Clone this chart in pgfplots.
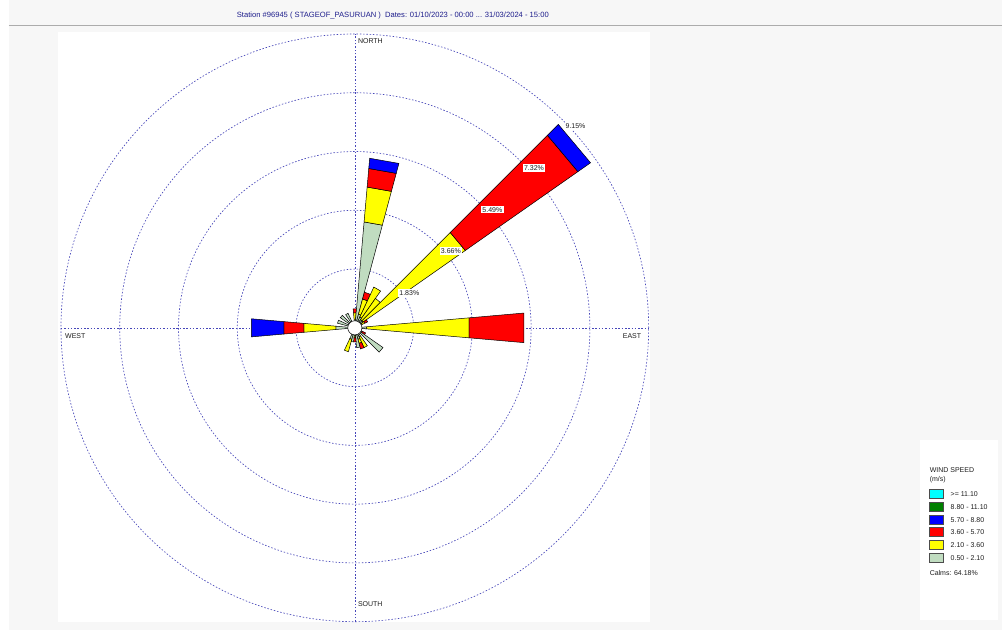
\documentclass[border=0pt]{standalone}
\usepackage{pgfplots}
\pgfplotsset{compat=1.18}
\usepackage{fontspec}
\setmainfont{Liberation Sans}
\definecolor{cg}{RGB}{192,220,192}
\definecolor{cy}{RGB}{255,255,0}
\definecolor{cr}{RGB}{255,0,0}
\definecolor{cb}{RGB}{0,0,255}
\definecolor{cdg}{RGB}{0,128,0}
\definecolor{cc}{RGB}{0,255,255}
\definecolor{ringblue}{RGB}{70,70,185}
\definecolor{titleblue}{RGB}{30,30,140}
\definecolor{bgc}{RGB}{247,247,247}
\definecolor{txt}{RGB}{30,30,30}
\newcommand{\fs}{\fontsize{7pt}{8.4pt}\selectfont}
\newcommand{\ft}{\fontsize{7.6pt}{9pt}\selectfont}
% colour, angle1, angle2 (math degrees), inner radius, outer radius (percent)
\newcommand{\seg}[5]{\addplot[data cs=polar, fill=#1, draw=black, line width=0.5pt, line join=miter] coordinates {(#2,#4) (#2,#5) (#3,#5) (#3,#4)} -- cycle;}
\tikzset{ring/.style={ringblue, line width=0.65pt, dash pattern=on 1.5pt off 1.8pt}}
\begin{document}
\begin{tikzpicture}
\fill[white] (0pt,0pt) rectangle (1002pt,630pt);
\fill[bgc] (9pt,0pt) rectangle (1002pt,630pt);
\draw[gray!65, line width=1pt] (9pt,604pt) -- (1002pt,604pt);
\node[font=\ft, text=titleblue, inner sep=0pt] at (393pt,614pt) {Station \#96945 ( STAGEOF\_PASURUAN )\ \ Dates: 01/10/2023 - 00:00 ... 31/03/2024 - 15:00};
\fill[white] (58pt,8pt) rectangle (650pt,598pt);
\fill[white] (920pt,10pt) rectangle (998pt,190pt);
\begin{axis}[at={(355pt,302pt)}, anchor=origin, scale only axis, width=588pt, height=588pt,
  xmin=-9.15, xmax=9.15, ymin=-9.15, ymax=9.15, hide axis, clip=false]
% rings and compass lines
\draw[ring] (axis cs:0,0) circle[radius=1.83];
\draw[ring] (axis cs:0,0) circle[radius=3.66];
\draw[ring] (axis cs:0,0) circle[radius=5.49];
\draw[ring] (axis cs:0,0) circle[radius=7.32];
\draw[ring] (axis cs:0,0) circle[radius=9.15];
\draw[ring] (axis cs:-9.15,0) -- (axis cs:9.15,0);
\draw[ring] (axis cs:0,-9.15) -- (axis cs:0,9.15);
% petals: bearing b -> math angle 90-b, width 10 deg
% 0 deg
\seg{cg}{85}{95}{0}{0.25}
\seg{cy}{85}{95}{0.25}{0.47}
\seg{cr}{85}{95}{0.47}{0.59}
% 10 deg
\seg{cg}{75}{85}{0}{3.31}
\seg{cy}{75}{85}{3.31}{4.40}
\seg{cr}{75}{85}{4.40}{4.98}
\seg{cb}{75}{85}{4.98}{5.30}
% 20 deg
\seg{cg}{65}{75}{0}{0.44}
\seg{cy}{65}{75}{0.44}{0.93}
\seg{cr}{65}{75}{0.93}{1.15}
% 30 deg
\seg{cg}{55}{65}{0}{0.37}
\seg{cy}{55}{65}{0.37}{1.40}
% 40 deg
\seg{cg}{45}{55}{0}{0.31}
\seg{cy}{45}{55}{0.31}{1.12}
% 50 deg
\seg{cg}{35}{45}{0}{0.31}
\seg{cy}{35}{45}{0.31}{4.20}
\seg{cr}{35}{45}{4.20}{8.48}
\seg{cb}{35}{45}{8.48}{8.96}
% 60 deg
\seg{cg}{25}{35}{0}{0.25}
\seg{cy}{25}{35}{0.25}{0.34}
\seg{cr}{25}{35}{0.34}{0.44}
% 90 deg
\seg{cg}{-5}{5}{0}{0.37}
\seg{cy}{-5}{5}{0.37}{3.57}
\seg{cr}{-5}{5}{3.57}{5.28}
% 120 deg
\seg{cg}{-35}{-25}{0}{0.25}
\seg{cr}{-35}{-25}{0.25}{0.37}
% 130 deg
\seg{cg}{-45}{-35}{0}{1.07}
% 150 deg
\seg{cg}{-65}{-55}{0}{0.31}
\seg{cy}{-65}{-55}{0.31}{0.68}
% 160 deg
\seg{cg}{-75}{-65}{0}{0.37}
\seg{cy}{-75}{-65}{0.37}{0.50}
\seg{cr}{-75}{-65}{0.50}{0.68}
% 170 deg
\seg{cg}{-85}{-75}{0}{0.62}
% 180 deg
\seg{cg}{-95}{-85}{0}{0.25}
\seg{cy}{-95}{-85}{0.25}{0.31}
\seg{cr}{-95}{-85}{0.31}{0.44}
% 190 deg
\seg{cg}{-105}{-95}{0}{0.44}
% 200 deg
\seg{cg}{-115}{-105}{0}{0.37}
\seg{cy}{-115}{-105}{0.37}{0.77}
% 270 deg
\seg{cg}{175}{185}{0}{0.59}
\seg{cy}{175}{185}{0.59}{1.59}
\seg{cr}{175}{185}{1.59}{2.22}
\seg{cb}{175}{185}{2.22}{3.23}
% 290 deg
\seg{cg}{155}{165}{0}{0.56}
% 310 deg
\seg{cg}{135}{145}{0}{0.55}
% 330 deg
\seg{cg}{115}{125}{0}{0.50}
% calm circle
\draw[fill=white, draw=black, line width=0.5pt] (axis cs:0,0) circle[radius=0.22];
% ring labels
\node[fill=white, inner sep=1.3pt, anchor=north west, font=\fs, text=txt, xshift=1.5pt, yshift=-2.5pt] at (axis cs:1.294,1.294) {1.83\%};
\node[fill=white, inner sep=1.3pt, anchor=north west, font=\fs, text=txt, xshift=1.5pt, yshift=-2.5pt] at (axis cs:2.588,2.588) {3.66\%};
\node[fill=white, inner sep=1.3pt, anchor=north west, font=\fs, text=txt, xshift=1.5pt, yshift=-2.5pt] at (axis cs:3.882,3.882) {5.49\%};
\node[fill=white, inner sep=1.3pt, anchor=north west, font=\fs, text=txt, xshift=1.5pt, yshift=-2.5pt] at (axis cs:5.176,5.176) {7.32\%};
\node[fill=white, inner sep=1.3pt, anchor=north west, font=\fs, text=txt, xshift=1.5pt, yshift=-2.5pt] at (axis cs:6.470,6.470) {9.15\%};
\end{axis}
% compass labels
\node[font=\fs, text=txt, anchor=west, inner sep=0pt] at (358pt,589pt) {NORTH};
\node[font=\fs, text=txt, anchor=west, inner sep=0pt] at (358pt,26pt) {SOUTH};
\node[font=\fs, text=txt, anchor=west, inner sep=0pt] at (65pt,294pt) {WEST};
\node[font=\fs, text=txt, anchor=west, inner sep=0pt] at (623pt,294pt) {EAST};
% legend
\node[font=\fs, text=txt, anchor=west, inner sep=0pt] at (930pt,160pt) {WIND SPEED};
\node[font=\fs, text=txt, anchor=west, inner sep=0pt] at (930pt,150pt) {(m/s)};
\draw[fill=cc,  draw=black!70, line width=0.6pt] (930pt,131pt) rectangle (944pt,140pt);
\draw[fill=cdg, draw=black!70, line width=0.6pt] (930pt,118pt) rectangle (944pt,127pt);
\draw[fill=cb,  draw=black!70, line width=0.6pt] (930pt,105.5pt) rectangle (944pt,114.5pt);
\draw[fill=cr,  draw=black!70, line width=0.6pt] (930pt,93pt) rectangle (944pt,102pt);
\draw[fill=cy,  draw=black!70, line width=0.6pt] (930pt,80pt) rectangle (944pt,89pt);
\draw[fill=cg,  draw=black!70, line width=0.6pt] (930pt,67pt) rectangle (944pt,76pt);
\node[font=\fs, text=txt, anchor=west, inner sep=0pt] at (951pt,135.5pt) {>= 11.10};
\node[font=\fs, text=txt, anchor=west, inner sep=0pt] at (951pt,122.5pt) {8.80 - 11.10};
\node[font=\fs, text=txt, anchor=west, inner sep=0pt] at (951pt,110pt) {5.70 - 8.80};
\node[font=\fs, text=txt, anchor=west, inner sep=0pt] at (951pt,97.5pt) {3.60 - 5.70};
\node[font=\fs, text=txt, anchor=west, inner sep=0pt] at (951pt,84.5pt) {2.10 - 3.60};
\node[font=\fs, text=txt, anchor=west, inner sep=0pt] at (951pt,71.5pt) {0.50 - 2.10};
\node[font=\fs, text=txt, anchor=west, inner sep=0pt] at (930pt,57pt) {Calms: 64.18\%};
\end{tikzpicture}
\end{document}
